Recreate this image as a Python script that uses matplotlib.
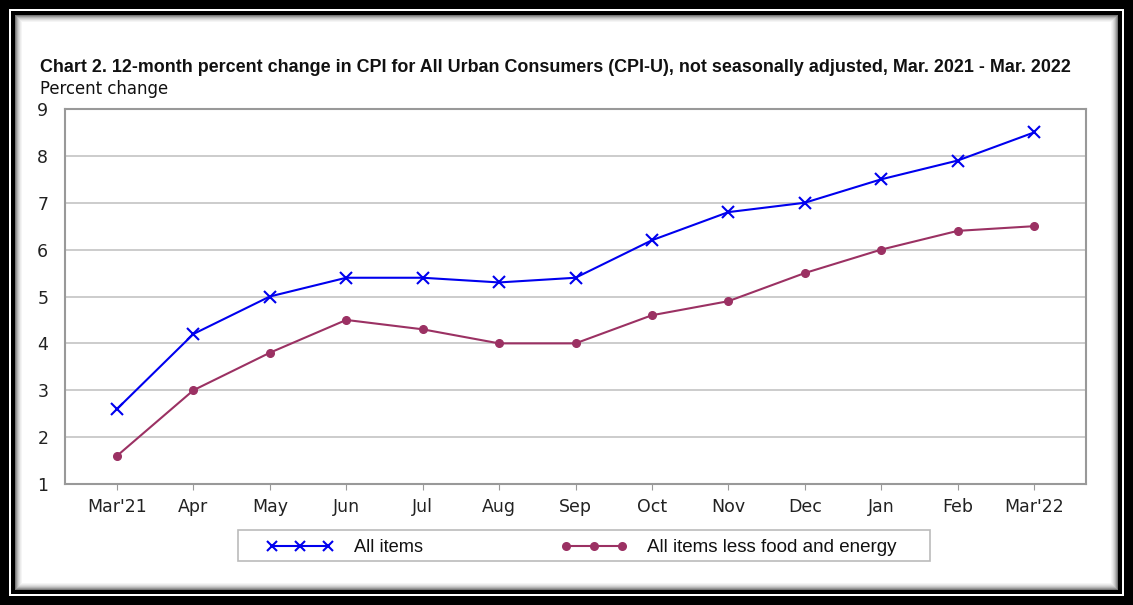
import matplotlib
matplotlib.use("Agg")
import matplotlib.pyplot as plt
from matplotlib.patches import Rectangle
from matplotlib.lines import Line2D

months = ["Mar'21", "Apr", "May", "Jun", "Jul", "Aug", "Sep", "Oct", "Nov", "Dec", "Jan", "Feb", "Mar'22"]
all_items = [2.6, 4.2, 5.0, 5.4, 5.4, 5.3, 5.4, 6.2, 6.8, 7.0, 7.5, 7.9, 8.5]
core_items = [1.6, 3.0, 3.8, 4.5, 4.3, 4.0, 4.0, 4.6, 4.9, 5.5, 6.0, 6.4, 6.5]

W, H = 1133, 605
fig = plt.figure(figsize=(W / 100, H / 100), dpi=100)
r = fig.canvas.get_renderer()


def px_rect(x0, y0, x1, y1, **kw):
    # rectangle in pixel coords (top-left origin)
    rect = Rectangle((x0 / W, 1 - y1 / H), (x1 - x0) / W, (y1 - y0) / H,
                     transform=fig.transFigure, **kw)
    fig.add_artist(rect)


def fit(txt, width):
    # scale font so the text spans the given pixel width
    w = txt.get_window_extent(r).width
    txt.set_fontsize(txt.get_fontsize() * width / w)


# frame: thick black, thin white, thin black, soft shadow
px_rect(0, 0, W, H, facecolor="black", edgecolor="none", zorder=0)
px_rect(9, 9, W - 9, H - 9, facecolor="white", edgecolor="none", zorder=0)
px_rect(11, 11, W - 11, H - 11, facecolor="black", edgecolor="none", zorder=0)
shades = ["#777777", "#999999", "#b5b5b5", "#cccccc", "#dddddd", "#ebebeb", "#f5f5f5"]
for i, c in enumerate(shades):
    px_rect(15 + i, 15 + i, W - 15 - i, H - 15 - i, facecolor=c, edgecolor="none", zorder=0)
px_rect(22, 22, W - 22, H - 22, facecolor="white", edgecolor="none", zorder=0)

ax = fig.add_axes([65 / W, 1 - 484 / H, (1086 - 65) / W, (484 - 109) / H])
ax.set_facecolor("none")
x = list(range(len(months)))

ax.plot(x, all_items, color="#0000ee", lw=1.5, marker="x", ms=9, mew=1.5)
ax.plot(x, core_items, color="#9b3163", lw=1.5, marker="o", ms=5.5)

ax.set_xlim(-0.68, 12.68)
ax.set_ylim(1, 9)
ax.set_yticks(range(1, 10))
ax.set_xticks(x)
ax.set_xticklabels(months)
ax.grid(axis="y", color="#c8c8c8", lw=1.3)
ax.set_axisbelow(True)
for s in ax.spines.values():
    s.set_color("#999999")
    s.set_linewidth(1.5)
ax.tick_params(axis="y", length=0, pad=12, labelsize=12.5, colors="#222222")
ax.tick_params(axis="x", length=4, color="#999999", pad=6, labelsize=12.5, labelcolor="#222222")

title = fig.text(40 / W, 1 - 67 / H, "Chart 2. 12-month percent change in CPI for All Urban Consumers (CPI-U), not seasonally adjusted, Mar. 2021 - Mar. 2022",
                 fontsize=12.5, fontweight="bold", family="Liberation Sans", va="center", ha="left", color="#111111")
fit(title, 1032)
pc = fig.text(40 / W, 1 - 89 / H, "Percent change", fontsize=12.5, va="center", ha="left", color="#111111")
fit(pc, 129)

# legend box
px_rect(238, 530, 930, 561, facecolor="white", edgecolor="#bbbbbb", lw=1.2, zorder=1)
ly = 1 - 546 / H
for xs, col, mk, ms, label, lx, tw in [
    ((272, 328), "#0000ee", "x", 7, "All items", 354, 69),
    ((566, 622), "#9b3163", "o", 5, "All items less food and energy", 647, 251),
]:
    xx = [xs[0] / W, (xs[0] + xs[1]) / 2 / W, xs[1] / W]
    fig.add_artist(Line2D(xx, [ly] * 3, transform=fig.transFigure, color=col, lw=1.5,
                          marker=mk, ms=ms, mew=1.5, zorder=2))
    t = fig.text(lx / W, ly - 2 / H, label, fontsize=12.5, family="Liberation Sans",
                 va="center", ha="left", color="#111111", zorder=2)
    fit(t, tw)

fig.savefig("out.png", dpi=100)
